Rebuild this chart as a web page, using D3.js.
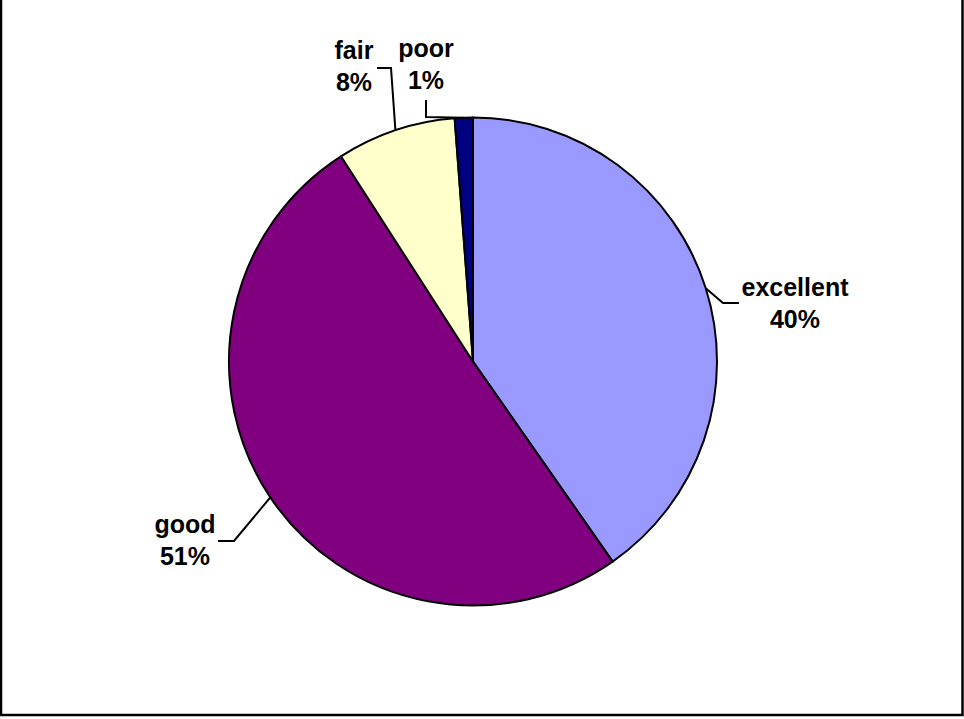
<!DOCTYPE html>
<html>
<head>
<meta charset="utf-8">
<script src="https://cdn.jsdelivr.net/npm/d3@7/dist/d3.min.js"></script>
<style>
html,body{margin:0;padding:0;background:#fff;}
svg{display:block;}
text{font-family:"Liberation Sans",Arial,sans-serif;font-weight:bold;font-size:25px;fill:#000;}
</style>
</head>
<body>
<svg id="chart" width="964" height="719"></svg>
<script>
const categories = ["excellent", "good", "fair", "poor"];
const values = [40.3, 50.6, 7.9, 1.2];
const pctLabels = ["40%", "51%", "8%", "1%"];
const colors = ["#9999FF", "#800080", "#FFFFCC", "#000080"];

const W = 964, H = 719;
const cx = 473, cy = 361.5, R = 244;

const svg = d3.select("#chart");

svg.append("rect")
  .attr("x", 1).attr("y", -5)
  .attr("width", 961.5).attr("height", 720)
  .attr("fill", "#fff").attr("stroke", "#000").attr("stroke-width", 2.5);

const data = categories.map((c, i) => ({cat: c, value: values[i], label: pctLabels[i], color: colors[i]}));

const pie = d3.pie().value(d => d.value).sort(null);
const arcs = pie(data);
const arc = d3.arc().innerRadius(0).outerRadius(R);

const g = svg.append("g").attr("transform", `translate(${cx},${cy})`);

g.selectAll("path.slice").data(arcs).enter().append("path")
  .attr("class", "slice")
  .attr("d", arc)
  .attr("fill", d => d.data.color)
  .attr("stroke", "#000")
  .attr("stroke-width", 2)
  .attr("stroke-linejoin", "round");

// label layout (absolute page coords): elbow points and text anchor
const layout = {
  excellent: {elbow: [[723, 303], [739, 303]], tx: 795, ty: 296},
  good:      {elbow: [[234, 541], [218, 541]], tx: 185, ty: 533},
  fair:      {elbow: [[391, 68], [377, 68]], tx: 354, ty: 59},
  poor:      {elbow: [[426, 117], [426, 100]], tx: 426, ty: 57}
};

arcs.forEach(a => {
  const L = layout[a.data.cat];
  const mid = (a.startAngle + a.endAngle) / 2;
  const start = [cx + R * Math.sin(mid), cy - R * Math.cos(mid)];
  const pts = [start].concat(L.elbow);
  svg.append("path")
    .attr("d", d3.line()(pts))
    .attr("fill", "none")
    .attr("stroke", "#000")
    .attr("stroke-width", 2);
  const t = svg.append("text").attr("text-anchor", "middle");
  t.append("tspan").attr("x", L.tx).attr("y", L.ty).text(a.data.cat);
  t.append("tspan").attr("x", L.tx).attr("y", L.ty + 32).text(a.data.label);
});
</script>
</body>
</html>
